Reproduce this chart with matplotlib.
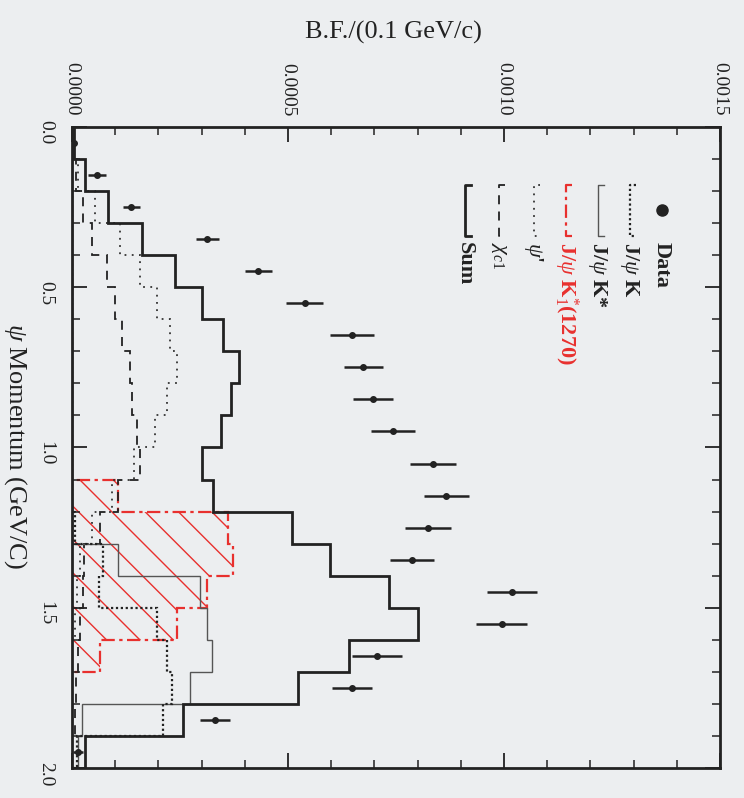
import numpy as np
import matplotlib.pyplot as plt

# psi momentum bins (GeV/c), 0.1 GeV wide
edges = [0.0, 0.1, 0.2, 0.3, 0.4, 0.5, 0.6, 0.7, 0.8, 0.9, 1.0,
         1.1, 1.2, 1.3, 1.4, 1.5, 1.6, 1.7, 1.8, 1.9, 2.0]
centers = [0.05, 0.15, 0.25, 0.35, 0.45, 0.55, 0.65, 0.75, 0.85, 0.95,
           1.05, 1.15, 1.25, 1.35, 1.45, 1.55, 1.65, 1.75, 1.85, 1.95]

# data points, B.F./(0.1 GeV/c)
data_bf = [0.000004, 0.000058, 0.000137, 0.000313, 0.000431, 0.000539, 0.000648,
           0.000674, 0.000697, 0.000743, 0.000836, 0.000866, 0.000824, 0.000787,
           0.001019, 0.000995, 0.000706, 0.000648, 0.000331, 0.000014]
data_err = [0.000005, 0.00002, 0.00002, 0.000027, 0.000031, 0.000043, 0.00005,
            0.000045, 0.000047, 0.000052, 0.000054, 0.000052, 0.000054, 0.000052,
            0.000058, 0.000059, 0.000057, 0.000046, 0.000035, 0.000012]

# MC components
jpsi_k = [0, 0, 0, 0, 0, 0, 0, 0, 0, 0, 0, 0, 0.000007, 0.000072, 0.000063,
          0.000197, 0.00022, 0.000231, 0.000211, 0.000012]
jpsi_kstar = [0, 0, 0, 0, 0, 0, 0, 0, 0, 0, 0, 0, 0, 0.000106, 0.000296,
              0.000313, 0.000324, 0.000273, 0.000023, 0.000014]
jpsi_k1 = [0, 0, 0, 0, 0, 0, 0, 0, 0, 0, 0, 0.000106, 0.000361, 0.000373,
           0.000313, 0.000243, 0.000065, 0, 0, 0]
psi2s = [0, 0.000014, 0.000053, 0.000111, 0.000157, 0.000197, 0.000227, 0.000243,
         0.00022, 0.000192, 0.000144, 0.000093, 0.000046, 0.000019, 0.000012,
         0.000007, 0, 0, 0, 0]
chic1 = [0, 0.000009, 0.000025, 0.000046, 0.000081, 0.0001, 0.000116, 0.000134,
         0.000139, 0.00015, 0.000157, 0.000106, 0.000065, 0.000028, 0.000025,
         0.000019, 0.000014, 0.000009, 0.000007, 0]
total = [0.000005, 0.00003, 0.000083, 0.000162, 0.000238, 0.000301, 0.00035,
         0.000387, 0.000368, 0.000345, 0.000301, 0.000326, 0.000509, 0.000597,
         0.000734, 0.000801, 0.000641, 0.000523, 0.000257, 0.00003]

labels = ['Data', r'J/$\psi$ K', r'J/$\psi$ K*', r'J/$\psi$ K$^{*}_{1}$(1270)',
          r"$\psi$'", r'$\chi_{c1}$', 'Sum']

red = '#e8302e'
bg = '#eceef0'
plt.rcParams['font.family'] = ['Liberation Serif', 'DejaVu Serif']
plt.rcParams['mathtext.fontset'] = 'custom'
plt.rcParams['mathtext.rm'] = 'Liberation Serif'
plt.rcParams['mathtext.it'] = 'Liberation Serif:italic'
plt.rcParams['mathtext.bf'] = 'Liberation Serif:bold'
plt.rcParams['hatch.color'] = red
plt.rcParams['hatch.linewidth'] = 1.0

fig = plt.figure(figsize=(7.44, 7.98), dpi=100, facecolor=bg)
ax = fig.add_axes([72/744, 1-768/798, 648/744, 641/798], facecolor=bg)

# plot is rotated: B.F. runs horizontally, momentum runs down
ax.stairs(jpsi_k1, edges, orientation='horizontal', fill=True, facecolor='none',
          edgecolor=red, hatch='\\', linewidth=0)
ax.stairs(jpsi_k1, edges, orientation='horizontal', color=red, lw=1.6,
          linestyle=(0, (6, 2, 1.5, 2)))
ax.stairs(chic1, edges, orientation='horizontal', color='#222222', lw=1.3,
          linestyle=(0, (5, 4)))
ax.stairs(psi2s, edges, orientation='horizontal', color='#333333', lw=1.3,
          linestyle=(0, (1, 3)))
ax.stairs(jpsi_kstar, edges, orientation='horizontal', color='#555555', lw=1.0)
ax.stairs(jpsi_k, edges, orientation='horizontal', color='#222222', lw=1.6,
          linestyle=(0, (1, 1.2)))
ax.stairs(total, edges, orientation='horizontal', color='#222222', lw=2.0)

ax.errorbar(data_bf, centers, xerr=data_err, fmt='o', color='#222222', ms=4,
            elinewidth=1.8, capsize=0)

ax.set_xlim(0, 0.0015)
ax.set_ylim(2.0, 0.0)
ax.set_xticks([0.0, 0.0005, 0.0010, 0.0015])
ax.set_xticklabels(['0.0000', '0.0005', '0.0010', '0.0015'])
ax.set_xticks(np.arange(0, 0.0015, 0.0001), minor=True)
ax.set_yticks([0.0, 0.5, 1.0, 1.5, 2.0])
ax.set_yticklabels(['0.0', '0.5', '1.0', '1.5', '2.0'])
ax.set_yticks(np.arange(0, 2.0, 0.1), minor=True)
ax.tick_params(which='both', direction='in', top=True, bottom=True, left=True,
               right=True, color='#222222')
ax.tick_params(which='major', length=11, width=1.3)
ax.tick_params(which='minor', length=6, width=1.1)
ax.tick_params(axis='x', labeltop=True, labelbottom=False, labelrotation=-90,
               labelsize=14, pad=8, labelcolor='#222222')
ax.tick_params(axis='y', labelrotation=-90, labelsize=14, pad=13, labelcolor='#222222')
for s in ax.spines.values():
    s.set_linewidth(2.0)
    s.set_color('#222222')

fig.text(393/744, 1-32/798, 'B.F./(0.1 GeV/c)', ha='center', va='center',
         fontsize=19, color='#222222')
fig.text(15/744, 1-446/798, r'$\psi$ Momentum (GeV/C)', ha='center', va='center',
         rotation=-90, fontsize=19, color='#222222')

# legend, drawn rotated like the rest of the page
cols = [662, 630, 598, 566, 534, 499, 465]
y0, y1, yt = 185, 236, 242
def fx(px):
    return (px - 72) / 648
def fy(py):
    return 1 - (py - 127) / 641
styles = [None,
          dict(color='#222222', lw=1.6, linestyle=(0, (1, 1.2))),
          dict(color='#555555', lw=1.0),
          dict(color=red, lw=1.6, linestyle=(0, (6, 2, 1.5, 2))),
          dict(color='#333333', lw=1.3, linestyle=(0, (1, 3))),
          dict(color='#222222', lw=1.3, linestyle=(0, (5, 4))),
          dict(color='#222222', lw=2.0)]
for i, lab in enumerate(labels):
    x = cols[i]
    if i == 0:
        ax.plot([fx(x)], [fy((y0 + y1) / 2)], 'o', color='#222222', ms=8,
                transform=ax.transAxes, clip_on=False)
    else:
        ax.plot([fx(x + 6), fx(x), fx(x), fx(x + 6)], [fy(y0), fy(y0), fy(y1), fy(y1)],
                transform=ax.transAxes, **styles[i])
    ax.text(fx(x), fy(yt), lab, rotation=-90, ha='center', va='top',
            transform=ax.transAxes, fontsize=16, fontweight='bold',
            color=red if i == 3 else '#222222')

fig.savefig('out.png', dpi=100, facecolor=bg)
